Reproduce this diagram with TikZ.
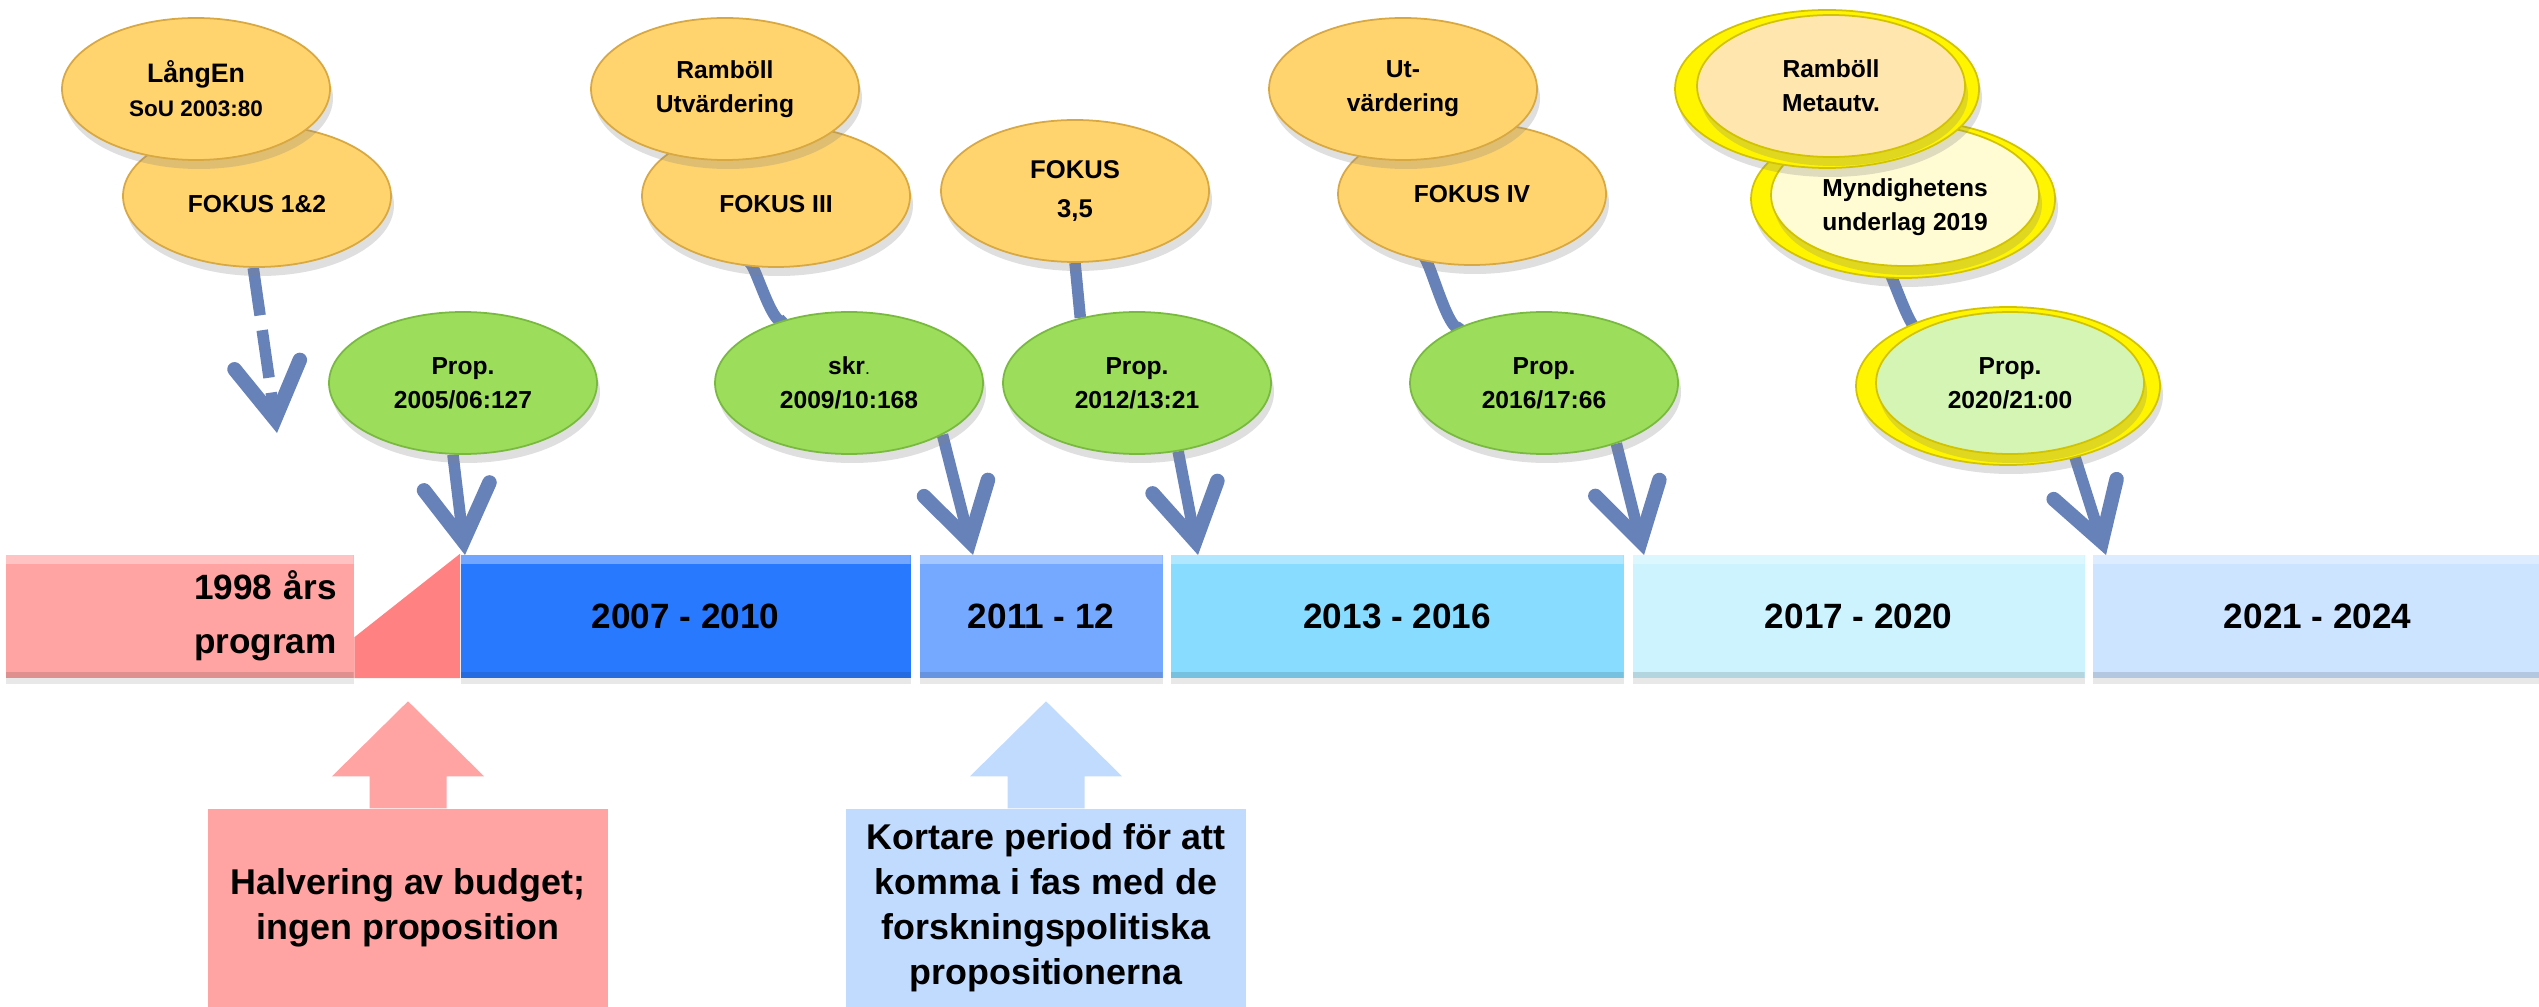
\documentclass[tikz,border=0pt]{standalone}
\usepackage{fontspec}
\setmainfont{Liberation Sans}
\usetikzlibrary{shapes.geometric, arrows.meta, backgrounds, shadows}
\definecolor{utvfill}{HTML}{FFD46E}
\definecolor{utvedge}{HTML}{D8A842}
\definecolor{propfill}{HTML}{9CDD5B}
\definecolor{propedge}{HTML}{79B940}
\definecolor{ringfill}{HTML}{FFF500}
\definecolor{ringedge}{HTML}{D2C300}
\definecolor{metafill}{HTML}{FFE6AE}
\definecolor{myndfill}{HTML}{FFFCD4}
\definecolor{newprop}{HTML}{D4F5B4}
\definecolor{connblue}{HTML}{6782B9}
\definecolor{c98}{HTML}{FFA3A3}
\definecolor{c98dark}{HTML}{FF8181}
\definecolor{c0710}{HTML}{2979FF}
\definecolor{c1112}{HTML}{75A9FF}
\definecolor{c1316}{HTML}{88DCFF}
\definecolor{c1720}{HTML}{CCF3FF}
\definecolor{c2124}{HTML}{CCE4FF}
\definecolor{notepink}{HTML}{FFA3A3}
\definecolor{noteblue}{HTML}{C1DBFF}
\begin{document}
\begin{tikzpicture}[x=0.1mm, y=-0.1mm,
  blob/.style={ellipse, minimum width=26.8mm, minimum height=14.2mm, inner sep=0pt, align=center, line width=0.5pt, font=\bfseries\fontsize{7}{9.7}\selectfont, drop shadow={shadow xshift=0.3mm, shadow yshift=-0.9mm, opacity=0.25}},
  utv/.style={blob, fill=utvfill, draw=utvedge},
  prop/.style={blob, fill=propfill, draw=propedge},
  ring/.style={ellipse, minimum width=30.4mm, minimum height=15.8mm, inner sep=0pt, fill=ringfill, draw=ringedge, line width=0.5pt, drop shadow={shadow xshift=0.3mm, shadow yshift=-0.9mm, opacity=0.25}},
  conn/.style={draw=connblue, line width=1.15mm},
  tip/.style={-{Straight Barb[length=5.5mm, width=6.6mm, line width=1.45mm, line cap=round, line join=miter]}},
  period/.style={rectangle, anchor=west, minimum height=12.3mm, inner sep=0pt, font=\bfseries\fontsize{10}{12}\selectfont, drop shadow={shadow xshift=0pt, shadow yshift=-0.6mm, opacity=0.18}, path picture={\fill[white, opacity=.35] (path picture bounding box.north west) rectangle ([yshift=-0.9mm]path picture bounding box.north east); \fill[black, opacity=.12] ([yshift=0.6mm]path picture bounding box.south west) rectangle (path picture bounding box.south east);}},
  note/.style={rectangle, minimum width=40mm, minimum height=19.8mm, inner sep=0pt, align=center, font=\bfseries\fontsize{10.2}{12.8}\selectfont}]
\useasboundingbox (0,0) rectangle (2539,1007);
\node[utv] (fok12) at (257,196) {\mbox{}\\FOKUS 1\&2};
\node[utv] (fok3) at (776,196) {\mbox{}\\FOKUS III};
\node[utv, font=\bfseries\fontsize{7.3}{11}\selectfont] (fok35) at (1075,191) {FOKUS\\3,5};
\node[utv] (fok4) at (1472,194) {FOKUS IV};
\node[ring] (myndring) at (1903,199) {};
\node[blob, fill=myndfill, draw=ringedge] (mynd) at (1905,195) {\rule{0pt}{12pt}Myndighetens\\underlag 2019};
\node[utv] (langen) at (196,89) {{\fontsize{7.6}{9.7}\selectfont LångEn}\\{\fontsize{6.4}{9.7}\selectfont SoU 2003:80}};
\node[utv] (rambu) at (725,89) {Ramböll\\Utvärdering};
\node[utv] (utv) at (1403,89) {Ut-\\värdering};
\node[ring] (metaring) at (1827,89) {};
\node[blob, fill=metafill, draw=ringedge] (meta) at (1831,86) {Ramböll\\Metautv.};
\node[prop] (pr05) at (463,383) {Prop.\\2005/06:127};
\node[prop] (skr) at (849,383) {skr{\mdseries\fontsize{5}{5}\selectfont .}\\2009/10:168};
\node[prop] (pr12) at (1137,383) {Prop.\\2012/13:21};
\node[prop] (pr16) at (1544,383) {Prop.\\2016/17:66};
\node[ring] (pr20ring) at (2008,386) {};
\node[blob, fill=newprop, draw=ringedge] (pr20) at (2010,383) {Prop.\\2020/21:00};
\node[period, fill=c98, minimum width=34.8mm, align=right, text width=31.4mm, font=\bfseries\fontsize{10}{15.3}\selectfont] (pg98) at (5,616) {1998 års\\program};
\node[period, fill=c0710, minimum width=45mm] (pg0710) at (460,616) {2007 - 2010};
\node[period, fill=c1112, minimum width=24.3mm] (pg1112) at (919,616) {2011 - 12};
\node[period, fill=c1316, minimum width=45.3mm] (pg1316) at (1170,616) {2013 - 2016};
\node[period, fill=c1720, minimum width=45.2mm] (pg1720) at (1632,616) {2017 - 2020};
\node[period, fill=c2124, minimum width=45mm] (pg2124) at (2092,616) {2021 - 2024};
\fill[c98dark] (pg98.south east) -- ++(0,-41) -- (pg0710.north west) -- (pg0710.south west) -- cycle;
\node[note, fill=notepink] (halv) at (408,908) {Halvering av budget;\\ingen proposition};
\fill[notepink] ([xshift=-3.85mm]halv.north) -- ++(0,-32) -- ++(-37.5,0) -- ++(76,-75) -- ++(76,75) -- ++(-37.5,0) -- ++(0,32) -- cycle;
\node[note, fill=noteblue] (kort) at (1046,908) {Kortare period för att\\komma i fas med de\\forskningspolitiska\\propositionerna};
\fill[noteblue] ([xshift=-3.85mm]kort.north) -- ++(0,-32) -- ++(-37.5,0) -- ++(76,-75) -- ++(76,75) -- ++(-37.5,0) -- ++(0,32) -- cycle;
\coordinate (tA) at (277,433);
\coordinate (t05) at (465,555);
\coordinate (t09) at (973,555);
\coordinate (t12) at (1198,555);
\coordinate (t16) at (1644,555);
\coordinate (t20) at (2106,555);
\begin{scope}[on background layer]
\fill[white] (0,0) rectangle (2539,1007);
\draw[conn, tip, dash pattern=on 4.8mm off 1.5mm] (fok12.267) -- (tA);
\draw[conn, tip] (pr05.262) -- (t05);
\draw[conn] (fok3.247) to[out=80, in=-125] (skr.134);
\draw[conn, tip] (skr.-29) -- (t09);
\draw[conn] (fok35.south) -- (pr12.131);
\draw[conn, tip] (pr12.-59) -- (t12);
\draw[conn] (fok4.232) to[out=82, in=-120] (pr16.144);
\draw[conn, tip] (pr16.-40) -- (t16);
\draw[conn] (mynd.250) to[out=80, in=-115] (pr20.147);
\draw[conn, tip] (pr20.-46) -- (t20);
\end{scope}
\end{tikzpicture}
\end{document}
